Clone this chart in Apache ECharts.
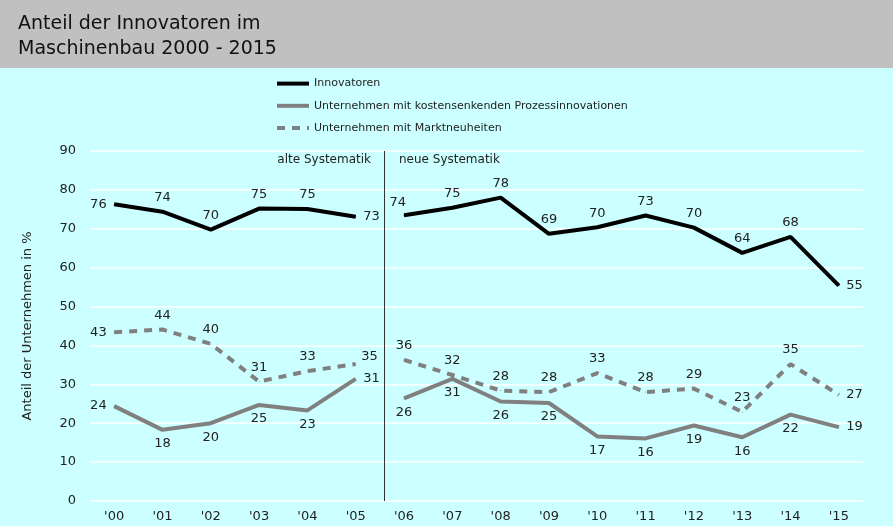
<!DOCTYPE html>
<html>
<head>
<meta charset="utf-8">
<script src="https://cdn.jsdelivr.net/npm/echarts@6/dist/echarts.min.js"></script>
<style>
  html, body { margin: 0; padding: 0; background: #ccffff; }
  #chart { width: 893px; height: 526px; }
</style>
</head>
<body>
<div id="chart"></div>
<script>
  var years = ["'00", "'01", "'02", "'03", "'04", "'05", "'06", "'07", "'08", "'09", "'10", "'11", "'12", "'13", "'14", "'15"];
  var innovatoren = [76.3, 74.4, 69.8, 75.2, 75.1, 73.1, 73.5, 75.4, 78.0, 68.7, 70.4, 73.4, 70.3, 63.8, 67.9, 55.4];
  var prozess = [24.4, 18.3, 20.0, 24.7, 23.3, 31.4, 26.4, 31.4, 25.6, 25.2, 16.6, 16.1, 19.4, 16.4, 22.2, 19.0];
  var markt = [43.4, 44.1, 40.4, 30.7, 33.4, 35.2, 36.3, 32.4, 28.4, 28.0, 32.9, 28.0, 28.9, 22.9, 35.2, 27.3];
  var yTicks = [0, 10, 20, 30, 40, 50, 60, 70, 80, 90];
  var breakIndex = 6; // neue Systematik ab '06

  // label placement per point
  var innoPos = ['left', 'top', 'top', 'top', 'top', 'right', 'topLeft', 'top', 'top', 'top', 'top', 'top', 'top', 'top', 'top', 'right'];
  var prozPos = ['left', 'bottom', 'bottom', 'bottom', 'bottom', 'right', 'bottom', 'bottom', 'bottom', 'bottom', 'bottom', 'bottom', 'bottom', 'bottom', 'bottom', 'right'];
  var marktPos = ['left', 'top', 'top', 'top', 'top', 'topRight', 'top', 'top', 'top', 'top', 'top', 'top', 'top', 'top', 'top', 'right'];

  var textColor = '#222';
  var font = 'DejaVu Sans, Verdana, sans-serif';

  function labelFor(p) {
    if (p === 'topLeft') return { position: [-14, -19] };
    if (p === 'topRight') return { position: [6, -13] };
    return { position: p };
  }

  function part(values, pos, first) {
    return values.map(function (v, i) {
      var inPart = first ? i < breakIndex : i >= breakIndex;
      if (!inPart) return '-';
      return { value: v, label: labelFor(pos[i]) };
    });
  }

  function makeSeries(name, values, pos, color, type) {
    return [true, false].map(function (first) {
      return {
        name: name,
        type: 'line',
        symbol: 'circle',
        symbolSize: 1,
        showSymbol: true,
        showAllSymbol: true,
        data: part(values, pos, first),
        lineStyle: { color: color, width: 4, type: type },
        itemStyle: { color: color, borderWidth: 0 },
        label: {
          show: true,
          color: textColor,
          fontFamily: font,
          fontSize: 13,
          distance: 7,
          formatter: function (p) { return Math.round(p.value); }
        },
        labelLayout: { hideOverlap: false },
        emphasis: { disabled: true }
      };
    });
  }

  var chart = echarts.init(document.getElementById('chart'));
  var series = [].concat(
    makeSeries('Innovatoren', innovatoren, innoPos, '#000000', 'solid'),
    makeSeries('Unternehmen mit kostensenkenden Prozessinnovationen', prozess, prozPos, '#808080', 'solid'),
    makeSeries('Unternehmen mit Marktneuheiten', markt, marktPos, '#808080', [8, 7])
  );
  series.push({
    type: 'line',
    xAxisIndex: 1,
    data: [],
    silent: true,
    markLine: {
      symbol: 'none',
      silent: true,
      label: { show: false },
      lineStyle: { color: '#333', width: 1, type: 'solid' },
      data: [{ xAxis: breakIndex + 0.1 }]
    }
  });

  chart.setOption({
    backgroundColor: '#ccffff',
    animation: false,
    graphic: [
      { type: 'rect', left: 0, top: 0, shape: { width: 893, height: 68 }, style: { fill: '#c0c0c0' }, z: -1 },
      { type: 'text', right: 522, top: 154, style: { text: 'alte Systematik', fill: textColor, font: '12px ' + font } },
      { type: 'text', left: 399, top: 154, style: { text: 'neue Systematik', fill: textColor, font: '12px ' + font } }
    ],
    title: {
      text: 'Anteil der Innovatoren im\nMaschinenbau 2000 - 2015',
      left: 13,
      top: 7,
      textStyle: { fontFamily: font, fontSize: 19, fontWeight: 'normal', color: '#111', lineHeight: 25 }
    },
    legend: {
      orient: 'vertical',
      left: 275,
      top: 78,
      padding: 0,
      itemWidth: 32,
      itemHeight: 14,
      itemGap: 11,
      lineStyle: { width: 4 },
      itemStyle: { opacity: 0 },
      textStyle: { fontFamily: font, fontSize: 11, color: textColor },
      data: ['Innovatoren', 'Unternehmen mit kostensenkenden Prozessinnovationen', 'Unternehmen mit Marktneuheiten']
    },
    grid: { left: 90, right: 30, top: 151, bottom: 25 },
    xAxis: [
      {
        type: 'category',
        data: years,
        boundaryGap: true,
        axisLine: { show: false },
        axisTick: { show: false },
        axisLabel: { color: textColor, fontFamily: font, fontSize: 13, margin: 9 }
      },
      { type: 'value', min: 0, max: years.length, show: false }
    ],
    yAxis: {
      type: 'value',
      min: yTicks[0],
      max: yTicks[yTicks.length - 1],
      interval: 10,
      name: 'Anteil der Unternehmen in %',
      nameLocation: 'middle',
      nameGap: 56,
      nameTextStyle: { color: textColor, fontFamily: font, fontSize: 13 },
      axisLine: { show: false },
      axisTick: { show: false },
      axisLabel: { color: textColor, fontFamily: font, fontSize: 13, margin: 14 },
      splitLine: { lineStyle: { color: '#ffffff', width: 1.5 } }
    },
    series: series
  });
</script>
</body>
</html>
